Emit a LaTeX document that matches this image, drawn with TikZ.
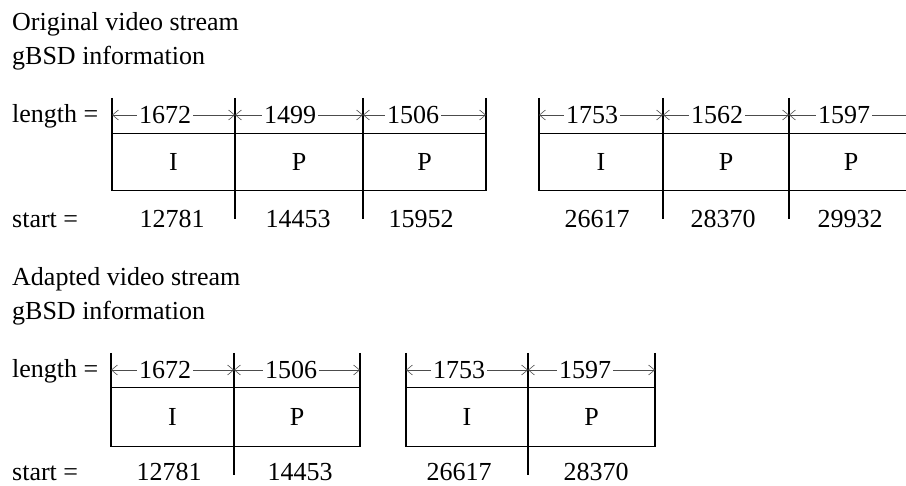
\documentclass[tikz,border=0pt]{standalone}
\usepackage{fontspec}
\setmainfont{Liberation Serif}
\usetikzlibrary{arrows.meta}
\begin{document}
\begin{tikzpicture}[x=1pt,y=-1pt,
  txt/.style={font=\fontsize{26}{31}\selectfont, inner sep=0pt},
  frame/.style={line width=1pt},
  edge/.style={line width=1.3pt},
  divider/.style={line width=1.8pt},
  dim/.style={line width=0.6pt, black!70, -{Straight Barb[length=6pt,width=10pt]}},
  dimplain/.style={line width=0.6pt, black!70},
  dimlbl/.style={txt, inner sep=2pt},
]
\useasboundingbox (0,0) rectangle (906,486);

% ---------------- Original stream ----------------
\node[txt, anchor=base west] (t1) at (12,31) {Original video stream};
\node[txt, anchor=base west] (t2) at (12,65) {gBSD information};
\node[txt, anchor=base west] (len1) at (12,123) {length =};
\node[txt, anchor=base west] (st1) at (12,228) {start =};

% group A
\coordinate (a0t) at (112,98);  \coordinate (a0b) at (112,191); \coordinate (a0m) at (112,115);
\coordinate (a1t) at (235,98);  \coordinate (a1b) at (235,219); \coordinate (a1m) at (235,115);
\coordinate (a2t) at (363,98);  \coordinate (a2b) at (363,219); \coordinate (a2m) at (363,115);
\coordinate (a3t) at (486,98);  \coordinate (a3b) at (486,191); \coordinate (a3m) at (486,115);
\draw[frame] (112,134) -- (486,134);
\draw[frame] (112,191) -- (486,191);
\draw[edge] (a0t) -- (a0b);
\draw[divider] (a1t) -- (a1b);
\draw[divider] (a2t) -- (a2b);
\draw[edge] (a3t) -- (a3b);
\node[dimlbl] (da1) at (165,115) {1672};
\node[dimlbl] (da2) at (290,115) {1499};
\node[dimlbl] (da3) at (413,115) {1506};
\draw[dim] (da1.west) -- (a0m); \draw[dim] (da1.east) -- (a1m);
\draw[dim] (da2.west) -- (a1m); \draw[dim] (da2.east) -- (a2m);
\draw[dim] (da3.west) -- (a2m); \draw[dim] (da3.east) -- (a3m);
\node[txt] (fa1) at (173.5,162) {I};
\node[txt] (fa2) at (299,162) {P};
\node[txt] (fa3) at (424.5,162) {P};
\node[txt, anchor=base] (sa1) at (172,228) {12781};
\node[txt, anchor=base] (sa2) at (298,228) {14453};
\node[txt, anchor=base] (sa3) at (421,228) {15952};

% group B
\coordinate (b0t) at (539,98);  \coordinate (b0b) at (539,191); \coordinate (b0m) at (539,115);
\coordinate (b1t) at (663,98);  \coordinate (b1b) at (663,219); \coordinate (b1m) at (663,115);
\coordinate (b2t) at (789,98);  \coordinate (b2b) at (789,219); \coordinate (b2m) at (789,115);
\coordinate (bend) at (906,115);
\draw[frame] (539,134) -- (906,134);
\draw[frame] (539,191) -- (906,191);
\draw[edge] (b0t) -- (b0b);
\draw[divider] (b1t) -- (b1b);
\draw[divider] (b2t) -- (b2b);
\node[dimlbl] (db1) at (592,115) {1753};
\node[dimlbl] (db2) at (717,115) {1562};
\node[dimlbl] (db3) at (844,115) {1597};
\draw[dim] (db1.west) -- (b0m); \draw[dim] (db1.east) -- (b1m);
\draw[dim] (db2.west) -- (b1m); \draw[dim] (db2.east) -- (b2m);
\draw[dim] (db3.west) -- (b2m); \draw[dimplain] (db3.east) -- (bend);
\node[txt] (fb1) at (601,162) {I};
\node[txt] (fb2) at (726,162) {P};
\node[txt] (fb3) at (851,162) {P};
\node[txt, anchor=base] (sb1) at (597,228) {26617};
\node[txt, anchor=base] (sb2) at (723,228) {28370};
\node[txt, anchor=base] (sb3) at (850,228) {29932};

% ---------------- Adapted stream ----------------
\node[txt, anchor=base west] (t3) at (12,286) {Adapted video stream};
\node[txt, anchor=base west] (t4) at (12,320) {gBSD information};
\node[txt, anchor=base west] (len2) at (12,378) {length =};
\node[txt, anchor=base west] (st2) at (12,481) {start =};

% group C
\coordinate (c0t) at (111,353); \coordinate (c0b) at (111,447); \coordinate (c0m) at (111,370);
\coordinate (c1t) at (234,353); \coordinate (c1b) at (234,475); \coordinate (c1m) at (234,370);
\coordinate (c2t) at (360,353); \coordinate (c2b) at (360,447); \coordinate (c2m) at (360,370);
\draw[frame] (111,388) -- (360,388);
\draw[frame] (111,447) -- (360,447);
\draw[edge] (c0t) -- (c0b);
\draw[divider] (c1t) -- (c1b);
\draw[edge] (c2t) -- (c2b);
\node[dimlbl] (dc1) at (165,370) {1672};
\node[dimlbl] (dc2) at (291,370) {1506};
\draw[dim] (dc1.west) -- (c0m); \draw[dim] (dc1.east) -- (c1m);
\draw[dim] (dc2.west) -- (c1m); \draw[dim] (dc2.east) -- (c2m);
\node[txt] (fc1) at (172.5,417) {I};
\node[txt] (fc2) at (297,417) {P};
\node[txt, anchor=base] (sc1) at (169,481) {12781};
\node[txt, anchor=base] (sc2) at (300,481) {14453};

% group D
\coordinate (d0t) at (406,353); \coordinate (d0b) at (406,447); \coordinate (d0m) at (406,370);
\coordinate (d1t) at (528,353); \coordinate (d1b) at (528,475); \coordinate (d1m) at (528,370);
\coordinate (d2t) at (655,353); \coordinate (d2b) at (655,447); \coordinate (d2m) at (655,370);
\draw[frame] (406,388) -- (655,388);
\draw[frame] (406,447) -- (655,447);
\draw[edge] (d0t) -- (d0b);
\draw[divider] (d1t) -- (d1b);
\draw[edge] (d2t) -- (d2b);
\node[dimlbl] (dd1) at (459,370) {1753};
\node[dimlbl] (dd2) at (585,370) {1597};
\draw[dim] (dd1.west) -- (d0m); \draw[dim] (dd1.east) -- (d1m);
\draw[dim] (dd2.west) -- (d1m); \draw[dim] (dd2.east) -- (d2m);
\node[txt] (fd1) at (467,417) {I};
\node[txt] (fd2) at (591.5,417) {P};
\node[txt, anchor=base] (sd1) at (459,481) {26617};
\node[txt, anchor=base] (sd2) at (596,481) {28370};
\end{tikzpicture}
\end{document}
